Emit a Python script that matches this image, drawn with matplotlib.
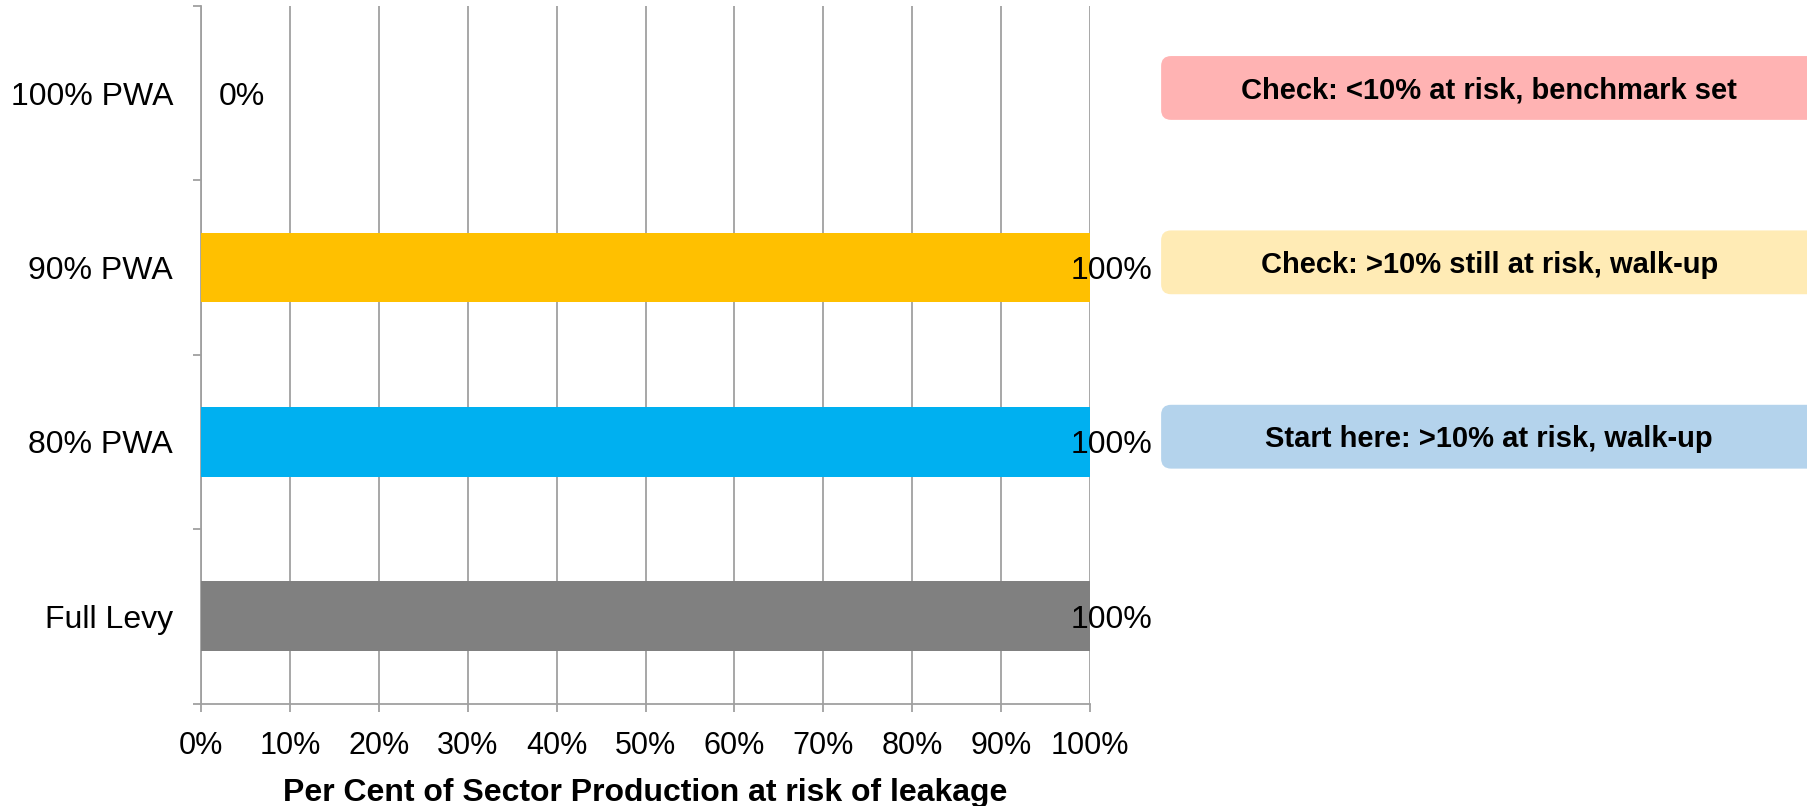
import matplotlib.pyplot as plt
from matplotlib.patches import FancyBboxPatch

plt.rcParams['font.family'] = ['Liberation Sans', 'DejaVu Sans']

# Share of sector production at risk of leakage under each option
options = ['Full Levy', '80% PWA', '90% PWA', '100% PWA']
at_risk = [100, 100, 100, 0]
bar_colors = ['#808080', '#00B0F0', '#FFC000', '#FFB3B3']

# Call-out notes next to the PWA options (option index, text, colour)
note_rows = [3, 2, 1]
note_texts = ['Check: <10% at risk, benchmark set',
              'Check: >10% still at risk, walk-up',
              'Start here: >10% at risk, walk-up']
note_colors = ['#FFB3B3', '#FFEBB5', '#B4D3EC']

W, H = 1808, 806
fig = plt.figure(figsize=(W / 100, H / 100), dpi=100)
ax = fig.add_axes([201 / W, 1 - 703.5 / H, 889 / W, 697.5 / H])

ypos = list(range(len(options)))
ax.barh(ypos, at_risk, height=0.4, color=bar_colors, zorder=3)

ax.set_xlim(0, 100)
ax.set_ylim(-0.5, len(options) - 0.5)

grid_col = '#A0A0A0'
ax.set_xticks(range(0, 101, 10))
ax.set_xticklabels([f'{v}%' for v in range(0, 101, 10)], fontsize=22)
ax.tick_params(axis='x', direction='out', length=6, width=1.3, color=grid_col, pad=14)
ax.grid(axis='x', color=grid_col, linewidth=1.3, zorder=0)

# category boundaries get the tick marks, the names sit in between
ax.set_yticks([i - 0.5 for i in range(len(options) + 1)])
ax.set_yticklabels([])
ax.set_yticks(ypos, minor=True)
ax.set_yticklabels(options, minor=True, fontsize=23)
ax.tick_params(axis='y', which='major', direction='out', length=6, width=1.3, color=grid_col)
ax.tick_params(axis='y', which='minor', length=0, pad=20)

for side in ['top', 'right']:
    ax.spines[side].set_visible(False)
for side in ['left', 'bottom']:
    ax.spines[side].set_color(grid_col)
    ax.spines[side].set_linewidth(1.3)

ax.set_xlabel('Per Cent of Sector Production at risk of leakage', fontsize=23, fontweight='bold')
ax.xaxis.set_label_coords(0.5, -0.1287)
ax.xaxis.label.set_va('center')

# value labels at the bar ends, caps centred on the bar
lab_fs = 23
for y, v in zip(ypos, at_risk):
    off = 18 if v == 0 else -19
    ax.annotate(f'{v}%', (v, y), xytext=(off * 0.72, -0.358 * lab_fs), textcoords='offset points',
                ha='left', va='baseline', fontsize=lab_fs, zorder=4, annotation_clip=False)

# rounded note boxes to the right of the plot
note_fs = 21
half_cap = 0.358 * note_fs * fig.dpi / 72 / H
inv = fig.transFigure.inverted()
for row, txt, col in zip(note_rows, note_texts, note_colors):
    x0, y_top = ax.transData.transform((108.0, row + 0.213))
    x1, y_bot = ax.transData.transform((181.8, row + 0.213 - 0.366))
    (fx0, fy0), (fx1, fy1) = inv.transform([(x0, y_bot), (x1, y_top)])
    box = FancyBboxPatch((fx0, fy0), fx1 - fx0, fy1 - fy0,
                         boxstyle='round,pad=0,rounding_size=0.0055',
                         mutation_aspect=W / H, transform=fig.transFigure,
                         facecolor=col, edgecolor='none', zorder=1)
    fig.patches.append(box)
    fig.text((fx0 + fx1) / 2, (fy0 + fy1) / 2 - half_cap, txt, ha='center', va='baseline',
             fontsize=note_fs, fontweight='bold', zorder=2)

fig.savefig('out.png', dpi=100)
